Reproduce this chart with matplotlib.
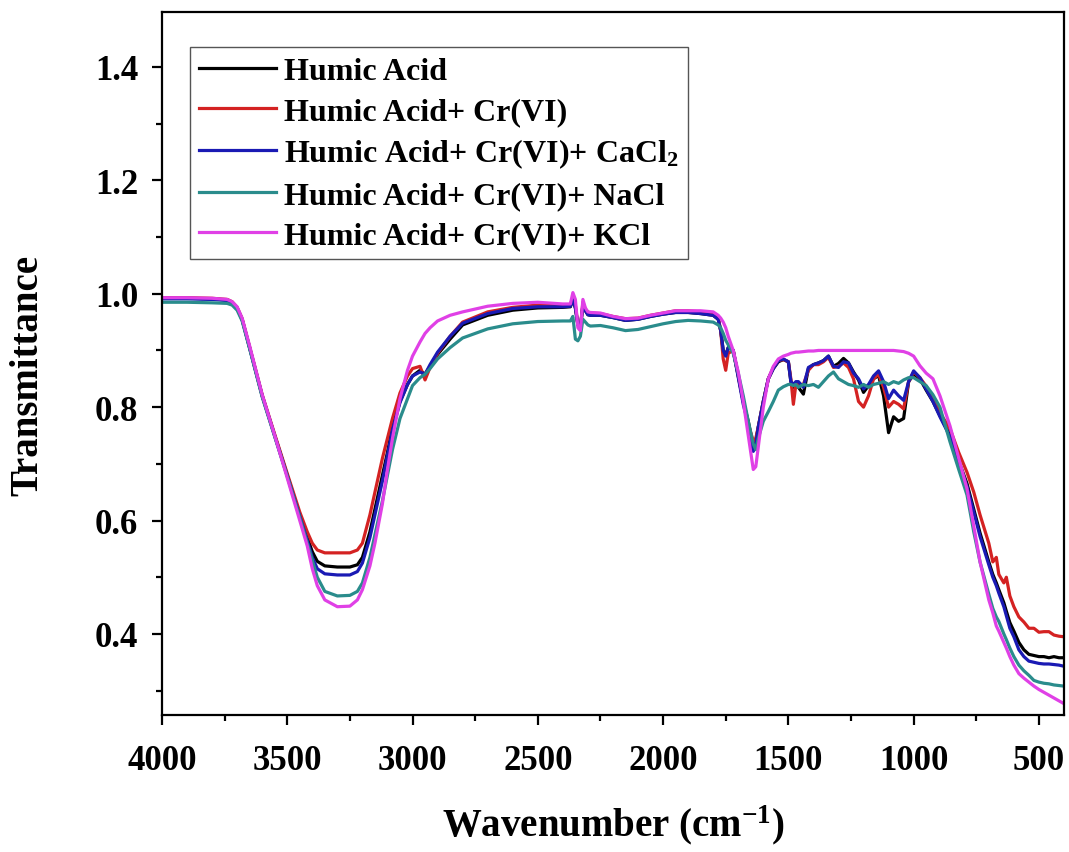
import matplotlib
matplotlib.use('Agg')
import matplotlib.pyplot as plt
from matplotlib.ticker import MultipleLocator

plt.rcParams['font.family'] = ['Liberation Serif', 'DejaVu Serif']
plt.rcParams['font.weight'] = 'bold'
plt.rcParams['mathtext.fontset'] = 'custom'
plt.rcParams['mathtext.rm'] = 'Liberation Serif:bold'
plt.rcParams['mathtext.it'] = 'Liberation Serif:bold'
plt.rcParams['mathtext.bf'] = 'Liberation Serif:bold'

# wavenumber grid (cm-1)
wavenumber = [
    4000, 3900, 3800, 3740, 3720, 3700, 3680, 3650, 3600, 3550,
    3500, 3450, 3420, 3400, 3380, 3350, 3300, 3250, 3220, 3200,
    3170, 3150, 3120, 3100, 3080, 3050, 3020, 3000, 2970, 2950,
    2930, 2900, 2850, 2800, 2700, 2600, 2500, 2400, 2370, 2360,
    2350, 2340, 2330, 2320, 2310, 2300, 2290, 2250, 2200, 2150,
    2100, 2050, 2000, 1950, 1900, 1850, 1800, 1780, 1770, 1760,
    1750, 1740, 1720, 1700, 1680, 1660, 1640, 1630, 1620, 1600,
    1580, 1560, 1540, 1520, 1500, 1490, 1480, 1470, 1460, 1440,
    1420, 1400, 1380, 1360, 1340, 1320, 1300, 1280, 1260, 1240,
    1220, 1200, 1180, 1160, 1140, 1120, 1100, 1080, 1060, 1040,
    1020, 1000, 975, 950, 923, 895, 855, 820, 787, 760,
    735, 700, 684, 670, 660, 640, 630, 616, 600, 580,
    560, 540, 520, 500, 480, 460, 440, 420, 400,
]

ha = [
    0.992, 0.992, 0.991, 0.989, 0.985, 0.975, 0.955, 0.905, 0.82, 0.75,
    0.68, 0.61, 0.57, 0.545, 0.528, 0.52, 0.518, 0.518, 0.522, 0.535,
    0.58, 0.62, 0.68, 0.72, 0.765, 0.81, 0.84, 0.855, 0.865, 0.858,
    0.872, 0.893, 0.92, 0.945, 0.962, 0.971, 0.975, 0.976, 0.977, 0.99,
    0.975, 0.945, 0.94, 0.98, 0.97, 0.963, 0.962, 0.962, 0.958, 0.953,
    0.955, 0.96, 0.964, 0.967, 0.967, 0.965, 0.962, 0.955, 0.935, 0.9,
    0.892, 0.905, 0.9, 0.855, 0.81, 0.775, 0.73, 0.74, 0.765, 0.81,
    0.85, 0.868, 0.88, 0.884, 0.88, 0.845, 0.835, 0.84, 0.835, 0.823,
    0.868, 0.875, 0.878, 0.882, 0.89, 0.872, 0.877, 0.886, 0.878, 0.862,
    0.848, 0.826, 0.838, 0.85, 0.856, 0.82, 0.755, 0.783, 0.775, 0.78,
    0.845, 0.858, 0.85, 0.83, 0.81, 0.785, 0.75, 0.705, 0.665, 0.62,
    0.578, 0.527, 0.505, 0.49, 0.478, 0.455, 0.44, 0.42, 0.405, 0.385,
    0.372, 0.364, 0.362, 0.36, 0.36, 0.358, 0.36, 0.358, 0.358,
]

ha_cr = [
    0.993, 0.993, 0.992, 0.99, 0.986, 0.976, 0.956, 0.906, 0.822, 0.752,
    0.683, 0.615, 0.58, 0.56, 0.548, 0.543, 0.543, 0.543, 0.548, 0.56,
    0.61, 0.65, 0.71, 0.745, 0.78, 0.825, 0.855, 0.868, 0.872, 0.848,
    0.87, 0.895, 0.925, 0.95, 0.968, 0.976, 0.98, 0.98, 0.98, 0.995,
    0.98, 0.945, 0.94, 0.985, 0.972, 0.968, 0.966, 0.965, 0.96, 0.956,
    0.957, 0.962, 0.966, 0.97, 0.97, 0.968, 0.965, 0.958, 0.935, 0.885,
    0.865, 0.895, 0.9, 0.855, 0.81, 0.77, 0.74, 0.745, 0.765, 0.81,
    0.85, 0.87, 0.882, 0.884, 0.88, 0.85, 0.805, 0.84, 0.84, 0.84,
    0.865, 0.875, 0.875, 0.88, 0.888, 0.87, 0.872, 0.878, 0.87, 0.85,
    0.81, 0.8, 0.82, 0.85, 0.858, 0.835, 0.8, 0.81, 0.805, 0.797,
    0.845, 0.862, 0.852, 0.837, 0.815, 0.79, 0.762, 0.72, 0.685, 0.65,
    0.61, 0.56, 0.527, 0.535, 0.505, 0.49, 0.5, 0.467, 0.448, 0.43,
    0.421, 0.41, 0.41, 0.403, 0.404, 0.404, 0.398, 0.396, 0.395,
]

ha_cr_cacl2 = [
    0.991, 0.991, 0.99, 0.988, 0.984, 0.974, 0.954, 0.904, 0.82, 0.749,
    0.679, 0.608, 0.565, 0.535, 0.515, 0.506, 0.504, 0.504, 0.51, 0.525,
    0.57, 0.61, 0.67, 0.715, 0.76, 0.808, 0.84, 0.855, 0.862, 0.858,
    0.875, 0.897, 0.925, 0.948, 0.965, 0.974, 0.977, 0.977, 0.978, 0.99,
    0.975, 0.945, 0.94, 0.98, 0.97, 0.963, 0.962, 0.962, 0.958, 0.953,
    0.955, 0.96, 0.964, 0.967, 0.967, 0.965, 0.962, 0.955, 0.935, 0.9,
    0.89, 0.905, 0.9, 0.852, 0.805, 0.77, 0.722, 0.735, 0.765, 0.81,
    0.85, 0.868, 0.882, 0.885, 0.88, 0.845, 0.84, 0.845, 0.845, 0.835,
    0.87, 0.875, 0.878, 0.882, 0.89, 0.872, 0.87, 0.88, 0.878, 0.86,
    0.85, 0.832, 0.84, 0.855, 0.864, 0.845, 0.815, 0.83, 0.82, 0.812,
    0.845, 0.864, 0.852, 0.832, 0.81, 0.783, 0.748, 0.703, 0.66, 0.615,
    0.572, 0.522, 0.5, 0.485, 0.472, 0.448, 0.432, 0.41, 0.395, 0.372,
    0.36, 0.352, 0.35, 0.348, 0.347, 0.347, 0.346, 0.345, 0.343,
]

ha_cr_nacl = [
    0.985, 0.985, 0.984, 0.983, 0.98, 0.971, 0.952, 0.903, 0.818, 0.748,
    0.678, 0.605, 0.56, 0.53, 0.5, 0.475, 0.467, 0.468, 0.475, 0.49,
    0.535, 0.575, 0.635, 0.68, 0.725, 0.78, 0.815, 0.838, 0.852, 0.858,
    0.868, 0.885, 0.905, 0.922, 0.938, 0.947, 0.951, 0.952, 0.952, 0.96,
    0.92, 0.917, 0.925, 0.955, 0.95, 0.945, 0.943, 0.944, 0.94, 0.935,
    0.937, 0.942, 0.947, 0.951, 0.953, 0.952, 0.95, 0.945, 0.94, 0.93,
    0.918, 0.91, 0.895, 0.86, 0.82, 0.775, 0.735, 0.725, 0.745, 0.775,
    0.792, 0.81, 0.83, 0.836, 0.84, 0.84, 0.838, 0.84, 0.835, 0.84,
    0.838, 0.84, 0.835, 0.845, 0.855, 0.862, 0.85, 0.845, 0.84, 0.838,
    0.835, 0.84, 0.835, 0.84, 0.842, 0.845, 0.84, 0.845, 0.842, 0.848,
    0.852, 0.852, 0.845, 0.838, 0.822, 0.8, 0.739, 0.69, 0.645, 0.58,
    0.527, 0.47, 0.445, 0.43, 0.422, 0.4, 0.39, 0.375, 0.36, 0.345,
    0.335, 0.327, 0.318, 0.315, 0.313, 0.312, 0.31, 0.309, 0.308,
]

ha_cr_kcl = [
    0.993, 0.993, 0.992, 0.99, 0.986, 0.977, 0.957, 0.908, 0.822, 0.75,
    0.675, 0.6, 0.555, 0.515, 0.485, 0.46, 0.448, 0.449, 0.46, 0.478,
    0.52, 0.56, 0.63, 0.69, 0.745, 0.815, 0.865, 0.89, 0.915, 0.93,
    0.94, 0.952, 0.962, 0.968, 0.978, 0.983, 0.985, 0.982, 0.982, 1.002,
    0.99, 0.94, 0.935, 0.99, 0.975, 0.968, 0.967, 0.966, 0.96, 0.956,
    0.957, 0.962, 0.966, 0.97, 0.97, 0.97, 0.968, 0.962, 0.957, 0.95,
    0.94, 0.925, 0.9, 0.862, 0.81, 0.75, 0.69, 0.695, 0.73, 0.8,
    0.85, 0.872, 0.885, 0.89, 0.893, 0.895, 0.896, 0.897, 0.897, 0.898,
    0.899, 0.899, 0.9, 0.9, 0.9, 0.9, 0.9, 0.9, 0.9, 0.9,
    0.9, 0.9, 0.9, 0.9, 0.9, 0.9, 0.9, 0.9, 0.899, 0.898,
    0.895, 0.89, 0.873, 0.86, 0.85, 0.82, 0.767, 0.71, 0.656, 0.59,
    0.527, 0.46, 0.437, 0.414, 0.405, 0.385, 0.375, 0.36, 0.345, 0.33,
    0.322, 0.315, 0.308, 0.302, 0.297, 0.292, 0.287, 0.282, 0.277,
]

labels = [
    'Humic Acid',
    'Humic Acid+ Cr(VI)',
    r'Humic Acid+ Cr(VI)+ CaCl$_{2}$',
    'Humic Acid+ Cr(VI)+ NaCl',
    'Humic Acid+ Cr(VI)+ KCl',
]
colors = ['#000000', '#d42222', '#1a1ab4', '#2a8c8c', '#e040e6']
series = [ha, ha_cr, ha_cr_cacl2, ha_cr_nacl, ha_cr_kcl]

fig = plt.figure(figsize=(10.69, 8.53), dpi=100)
ax = fig.add_axes([0.1515, 0.1606, 0.8438, 0.8242])

for y, c, lab in zip(series, colors, labels):
    ax.plot(wavenumber, y, color=c, lw=2.3, label=lab)

ax.set_xlim(4000, 400)
ax.set_ylim(0.257, 1.497)
ax.xaxis.set_major_locator(MultipleLocator(500))
ax.xaxis.set_minor_locator(MultipleLocator(250))
ax.yaxis.set_major_locator(MultipleLocator(0.2))
ax.yaxis.set_minor_locator(MultipleLocator(0.1))
ax.tick_params(which='both', direction='out', width=1.6, labelsize=25)
ax.tick_params(which='major', length=7)
ax.tick_params(which='minor', length=4)
ax.tick_params(axis='x', pad=14)
ax.tick_params(axis='y', pad=10)
for s in ax.spines.values():
    s.set_linewidth(1.6)

ax.set_xlabel(r'Wavenumber (cm$^{-1}$)', fontsize=28, fontweight='bold', labelpad=18)
ax.set_ylabel('Transmittance', fontsize=28, fontweight='bold')
ax.yaxis.set_label_coords(-0.128, 0.485)

leg = ax.legend(loc='upper left', bbox_to_anchor=(0.031, 0.950), borderaxespad=0,
                fontsize=23, handlelength=2.4, handletextpad=0.25,
                labelspacing=0.33, borderpad=0.3, fancybox=False, framealpha=1)
leg.get_frame().set_edgecolor('#555555')
leg.get_frame().set_linewidth(1.0)
for t in leg.get_texts():
    t.set_fontweight('bold')

fig.savefig('out.png', dpi=100)
